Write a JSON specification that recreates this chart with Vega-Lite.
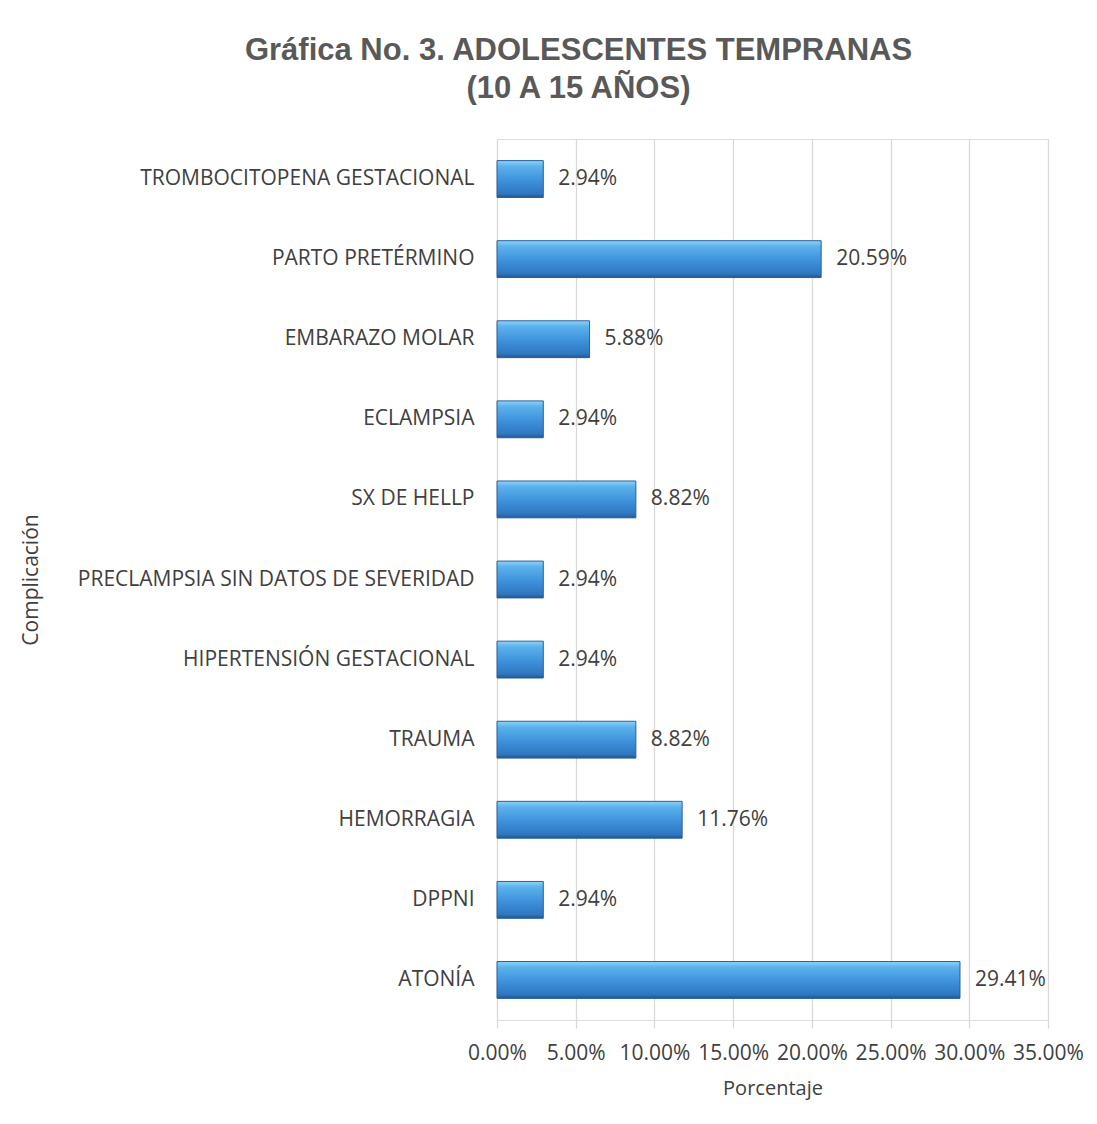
{
  "$schema": "https://vega.github.io/schema/vega-lite/v6.json",
  "width": 551,
  "height": 881,
  "autosize": {"type": "none"},
  "padding": {"left": 497, "top": 139, "right": 49, "bottom": 104},
  "background": "white",
  "title": {
    "text": ["Gráfica No. 3. ADOLESCENTES TEMPRANAS", "(10 A 15 AÑOS)"],
    "font": "Liberation Sans",
    "fontSize": 31,
    "fontWeight": "bold",
    "color": "#595959",
    "anchor": "middle",
    "dx": -194,
    "offset": 34,
    "lineHeight": 38
  },
  "data": {
    "values": [
      {"complicacion": "TROMBOCITOPENA GESTACIONAL", "porcentaje": 2.94},
      {"complicacion": "PARTO PRETÉRMINO", "porcentaje": 20.59},
      {"complicacion": "EMBARAZO MOLAR", "porcentaje": 5.88},
      {"complicacion": "ECLAMPSIA", "porcentaje": 2.94},
      {"complicacion": "SX DE HELLP", "porcentaje": 8.82},
      {"complicacion": "PRECLAMPSIA SIN DATOS DE SEVERIDAD", "porcentaje": 2.94},
      {"complicacion": "HIPERTENSIÓN GESTACIONAL", "porcentaje": 2.94},
      {"complicacion": "TRAUMA", "porcentaje": 8.82},
      {"complicacion": "HEMORRAGIA", "porcentaje": 11.76},
      {"complicacion": "DPPNI", "porcentaje": 2.94},
      {"complicacion": "ATONÍA", "porcentaje": 29.41}
    ]
  },
  "encoding": {
    "y": {
      "field": "complicacion",
      "type": "nominal",
      "sort": null,
      "scale": {"paddingInner": 0.54, "paddingOuter": 0.27},
      "axis": {
        "title": "Complicación",
        "titleFont": "Open Sans",
        "titleFontSize": 21,
        "titleFontWeight": "normal",
        "titleColor": "#404040",
        "titleX": -456,
        "labelFont": "Open Sans",
        "labelFontSize": 21,
        "labelColor": "#404040",
        "labelPadding": 23,
        "labelLimit": 500,
        "ticks": false,
        "domain": false,
        "grid": false
      }
    },
    "x": {
      "field": "porcentaje",
      "type": "quantitative",
      "scale": {"domain": [0, 35], "nice": false},
      "axis": {
        "title": "Porcentaje",
        "titleFont": "Open Sans",
        "titleFontSize": 20,
        "titleFontWeight": "normal",
        "titleColor": "#404040",
        "titlePadding": 15,
        "labelFont": "Open Sans",
        "labelFontSize": 21,
        "labelColor": "#404040",
        "labelPadding": 14,
        "labelOverlap": false,
        "labelFlush": false,
        "labelBound": false,
        "labelExpr": "format(datum.value, '.2f') + '%'",
        "values": [0, 5, 10, 15, 20, 25, 30, 35],
        "grid": true,
        "gridColor": "#d9d9d9",
        "gridWidth": 1.3,
        "ticks": true,
        "tickColor": "#d9d9d9",
        "tickSize": 8,
        "tickWidth": 1.3,
        "domain": false
      }
    }
  },
  "layer": [
    {
      "mark": {
        "type": "bar",
        "stroke": "#2a5f95",
        "strokeWidth": 1,
        "color": {
          "gradient": "linear",
          "x1": 0, "y1": 0, "x2": 0, "y2": 1,
          "stops": [
            {"offset": 0, "color": "#8fd4f8"},
            {"offset": 0.15, "color": "#5cb2ec"},
            {"offset": 0.55, "color": "#3d91da"},
            {"offset": 0.9, "color": "#2f76c0"},
            {"offset": 1, "color": "#23558c"}
          ]
        }
      }
    },
    {
      "mark": {
        "type": "text",
        "align": "left",
        "baseline": "middle",
        "dx": 15,
        "font": "Open Sans",
        "fontSize": 21,
        "color": "#404040",
        "text": {"expr": "format(datum.porcentaje, '.2f') + '%'"}
      }
    }
  ]
}
